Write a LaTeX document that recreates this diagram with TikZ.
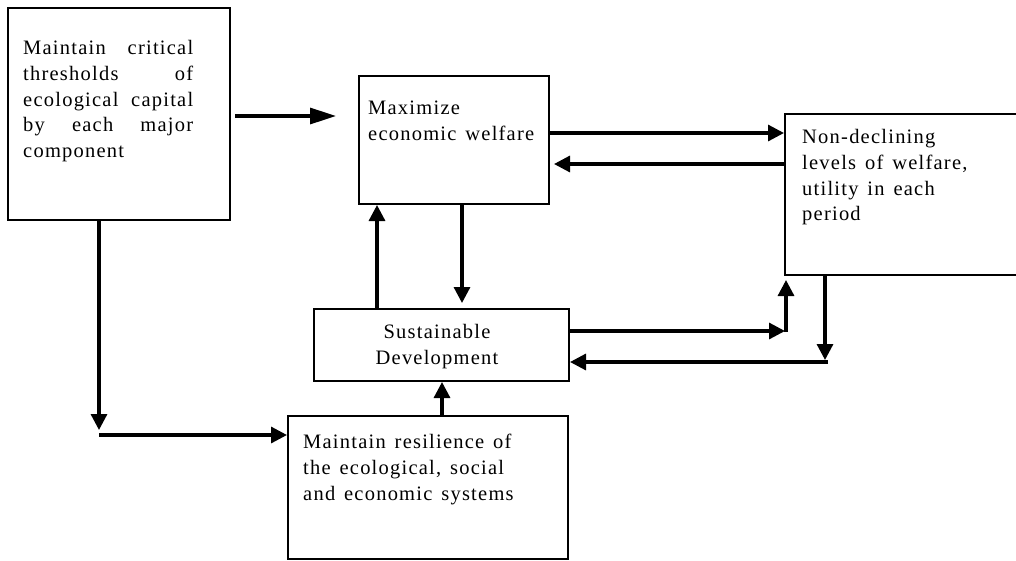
\documentclass[tikz,border=0pt]{standalone}
\usepackage{fontspec}
\setmainfont{Liberation Serif}[LetterSpace=6,WordSpace=1.4]
\usetikzlibrary{positioning,arrows.meta}

\tikzset{
	box/.style={draw, line width=2pt, anchor=north west, inner sep=0pt},
	txt/.style={anchor=north west, inner sep=0pt, align=left, font=\fontsize{20.5}{25.8}\selectfont},
	arr/.style={line width=3.2pt, -{Triangle[length=16pt,width=16pt]}}
}

\begin{document}
\begin{tikzpicture}[x=1pt,y=-1pt]
		\useasboundingbox (0,0) rectangle (1016,560);
		% boxes
		\node[box, minimum width=222, minimum height=212] (thresh) at (7,7) {};
		\node[box, minimum width=190, minimum height=128] (maxw) at (358,75) {};
		\node[box, minimum width=240, minimum height=161] (nondec) at (784,113) {};
		\node[box, minimum width=255, minimum height=72] (sustdev) at (313,308) {};
		\node[box, minimum width=280, minimum height=143] (resil) at (287,415) {};
		% texts
		\node[txt, text width=170] (threshtxt) at (23,40) {Maintain\hfill critical\\ thresholds\hfill of\\ ecological\hfill capital\\ by\hfill each\hfill major\\ component};
		\node[txt] (maxwtxt) at (368,101) {Maximize\\ economic welfare};
		\node[txt] (nondectxt) at (802,129) {Non-declining\\ levels of welfare,\\ utility in each\\ period};
		\node[txt, anchor=north, align=center] (sustdevtxt) at (437,324) {Sustainable\\ Development};
		\node[txt] (resiltxt) at (303,434) {Maintain resilience of\\ the ecological, social\\ and economic systems};
		
		\coordinate (thout) at (235,116);
		\coordinate (maxin) at (336,116);
		\draw[arr, -{Triangle[length=26pt,width=16pt]}] (thout) -- (maxin);
		\path[arr]
		(maxw.east |- 0,133) edge (nondec.west |- 0,133)
		(nondec.west |- 0,164) edge ([xshift=4pt]maxw.east |- 0,164)
		(377,0 |- sustdev.north) edge (377,0 |- maxw.south)
		(462,0 |- maxw.south) edge ([yshift=5pt]462,0 |- sustdev.north)
		(442,0 |- resil.north) edge (442,0 |- sustdev.south)
		(sustdev.east |- 0,331) edge (785,331)
		(786,332) edge ([yshift=-4pt]786,0 |- nondec.south)
		(825,0 |- nondec.south) edge (825,360)
		(828,362) edge (sustdev.east |- 0,362)
		(99,0 |- thresh.south) edge (99,430)
		(99,435) edge (resil.west |- 0,435);
		
	\end{tikzpicture}
\end{document}
